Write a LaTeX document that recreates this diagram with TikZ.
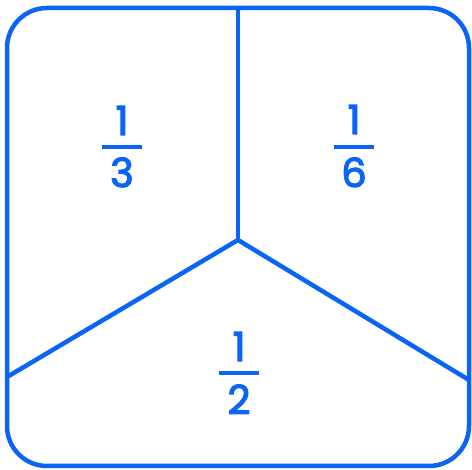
\documentclass[tikz,border=0pt]{standalone}
\usepackage{fontspec}
\setmainfont{Poppins}
\newfontfamily\numfont{Poppins}[FakeBold=3]
\definecolor{fblue}{RGB}{10,100,246}
\begin{document}
\begin{tikzpicture}[x=1pt,y=-1pt,
  ln/.style={draw=fblue,line width=4.5pt},
  bar/.style={draw=fblue,line width=3.5pt},
  num/.style={text=fblue,font=\numfont\fontsize{40}{40}\selectfont,inner sep=0pt,anchor=base}]
\useasboundingbox (0,0) rectangle (472,470);
\draw[ln,rounded corners=40pt] (7,8) rectangle (469,466);
\coordinate (c) at (238,240);
\coordinate (t) at (238,8);
\coordinate (l) at (7,377);
\coordinate (r) at (469,380);
\draw[ln] (t) -- (c);
\draw[ln] (l) -- (c) -- (r);
% 1/3
\node[num] (n1) at (122,135) {1};
\draw[bar] (102,147) coordinate (b1l) -- (142,147) coordinate (b1r);
\node[num] (d1) at (122,187) {3};
% 1/6
\node[num] (n2) at (354,134) {1};
\draw[bar] (334,147) coordinate (b2l) -- (374,147) coordinate (b2r);
\node[num] (d2) at (354,187) {6};
% 1/2
\node[num] (n3) at (239,361) {1};
\draw[bar] (219,373) coordinate (b3l) -- (259,373) coordinate (b3r);
\node[num] (d3) at (239,414) {2};
\end{tikzpicture}
\end{document}
